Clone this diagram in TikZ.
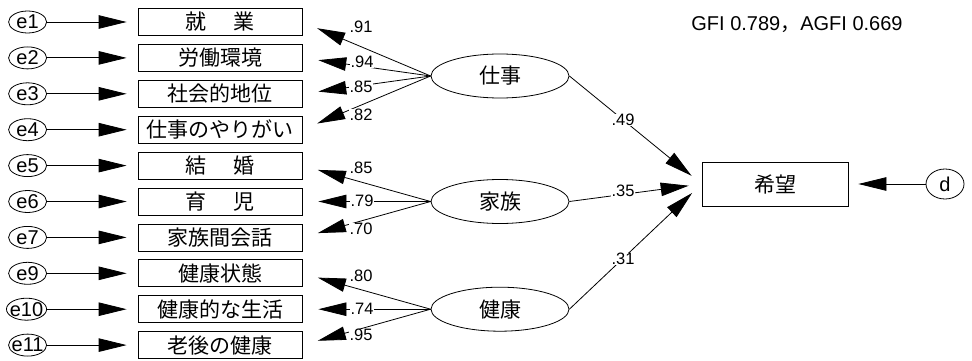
\documentclass[tikz,border=0pt]{standalone}
\usepackage{fontspec}
\setmainfont{Liberation Sans}
\newfontfamily\cjk{Noto Sans CJK JP}
\usetikzlibrary{arrows.meta,shapes.geometric}
\begin{document}
\begin{tikzpicture}[x=1pt,y=-1pt,
  arr/.style={line width=0.8pt,-{Triangle[length=28pt,width=13.5pt]}},
  ind/.style={draw,line width=0.8pt,minimum width=164pt,minimum height=27pt,inner sep=0pt,font=\cjk\fontsize{21}{21}\selectfont},
  err/.style={draw,ellipse,line width=0.8pt,minimum width=38pt,minimum height=22pt,inner xsep=-2.5pt,inner ysep=0pt,font=\fontsize{20}{20}\selectfont,anchor=east},
  fac/.style={draw,ellipse,line width=0.8pt,minimum width=138pt,minimum height=44pt,inner sep=0pt,font=\cjk\fontsize{21}{21}\selectfont},
  lab/.style={fill=white,inner sep=0.6pt,font=\fontsize{16.5}{16.5}\selectfont},
]
\useasboundingbox (0,0) rectangle (972,361);

% indicator boxes
\node[ind] (b1)  at (220,22)    {就\hspace{1.3em}業};
\node[ind] (b2)  at (220,57.9)  {労働環境};
\node[ind] (b3)  at (220,93.8)  {社会的地位};
\node[ind] (b4)  at (220,129.7) {仕事のやりがい};
\node[ind] (b5)  at (220,165.6) {結\hspace{1.3em}婚};
\node[ind] (b6)  at (220,201.5) {育\hspace{1.3em}児};
\node[ind] (b7)  at (220,237.4) {家族間会話};
\node[ind] (b9)  at (220,273.3) {健康状態};
\node[ind] (b10) at (220,309.2) {健康的な生活};
\node[ind] (b11) at (220,345.1) {老後の健康};

% error terms
\node[err] (e1)  at (47,22)    {e1};
\node[err] (e2)  at (47,57.9)  {e2};
\node[err] (e3)  at (47,93.8)  {e3};
\node[err] (e4)  at (47,129.7) {e4};
\node[err] (e5)  at (47,165.6) {e5};
\node[err] (e6)  at (47,201.5) {e6};
\node[err] (e7)  at (47,237.4) {e7};
\node[err] (e9)  at (47,273.3) {e9};
\node[err] (e10) at (47,309.2) {e10};
\node[err] (e11) at (47,345.1) {e11};

% factors
\node[fac] (f1) at (500,76)    {仕事};
\node[fac] (f2) at (500,201.5) {家族};
\node[fac] (f3) at (500,309.2) {健康};

% outcome and disturbance
\node[ind,minimum width=146pt,minimum height=44pt] (h) at (775,184) {希望};
\node[draw,ellipse,line width=0.8pt,minimum width=38pt,minimum height=30pt,inner sep=0pt,font=\fontsize{20}{20}\selectfont] (d) at (945,184) {d};

\node[font=\fontsize{20}{20}\selectfont] (fit) at (797,25) {GFI 0.789{\cjk ，}AGFI 0.669};

% error arrows
\foreach \i in {1,2,3,4,5,6,7,9,10,11}
  \draw[arr,shorten >=11pt] (e\i) -- (b\i);

% loadings
\foreach \f/\b in {f1/b1,f1/b2,f1/b3,f1/b4,f2/b5,f2/b6,f2/b7,f3/b9,f3/b10,f3/b11}
  \draw[arr,shorten >=16pt] (\f.west) -- (\b.east);

% structural
\draw[arr,shorten >=13pt] (f1.east) -- (h.west);
\draw[arr,shorten >=13pt] (f2.east) -- (h.west);
\draw[arr,shorten >=13pt] (f3.east) -- (h.west);
\draw[arr,shorten >=10pt] (d) -- (h);

% labels
\node[lab] (l1)  at (361,27)  {.91};
\node[lab] (l2)  at (362,62)  {.94};
\node[lab] (l3)  at (361,87)  {.85};
\node[lab] (l4)  at (361,115) {.82};
\node[lab] (l5)  at (361,168) {.85};
\node[lab] (l6)  at (362,201) {.79};
\node[lab] (l7)  at (361,229) {.70};
\node[lab] (l9)  at (361,276) {.80};
\node[lab] (l10) at (362,309) {.74};
\node[lab] (l11) at (361,335) {.95};
\node[lab] (s1)  at (623,120) {.49};
\node[lab] (s2)  at (623,191) {.35};
\node[lab] (s3)  at (623,259) {.31};
\end{tikzpicture}
\end{document}
